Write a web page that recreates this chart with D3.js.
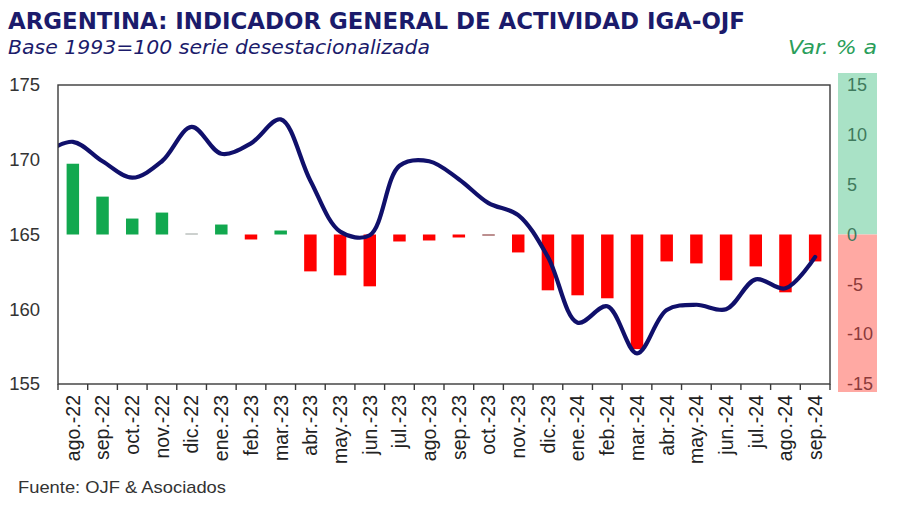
<!DOCTYPE html>
<html><head><meta charset="utf-8">
<script src="https://cdn.jsdelivr.net/npm/d3@7"></script>
<style>body{margin:0;background:#fff} svg{display:block}</style>
</head><body><svg id="c" width="900" height="505"></svg>
<script>
const categories = ["ago.-22","sep.-22","oct.-22","nov.-22","dic.-22","ene.-23","feb.-23","mar.-23","abr.-23","may.-23","jun.-23","jul.-23","ago.-23","sep.-23","oct.-23","nov.-23","dic.-23","ene.-24","feb.-24","mar.-24","abr.-24","may.-24","jun.-24","jul.-24","ago.-24","sep.-24"];
// IGA-OJF index (left axis), base 1993=100
const indexValues = [171.2,169.9,168.8,169.9,172.2,170.4,171.1,172.7,168.6,165.2,164.95,169.6,169.9,168.7,167.1,166.3,163.5,159.1,160.2,157.05,159.95,160.3,160.0,162.0,161.4,163.5];
// value of the month before the first category (jul.-22), line enters from the left edge
const indexPrevValue = 170.4;
// year-on-year % change (right axis)
const varValues = [7.1,3.8,1.6,2.2,0.1,1.0,-0.5,0.4,-3.7,-4.1,-5.2,-0.7,-0.6,-0.3,-0.1,-1.8,-5.6,-6.1,-6.4,-11.5,-2.7,-2.9,-4.6,-3.2,-5.8,-2.7];
const leftTicks = [155,160,165,170,175];
const rightTicks = [-15,-10,-5,0,5,10,15];

const svg = d3.select('#c');
const L = 58, R = 830, T = 85, B = 384;
const x = d3.scaleBand().domain(categories).range([L, R]).padding(0);
const bw = x.bandwidth();
const yL = d3.scaleLinear().domain([155, 175]).range([B, T]);
const yR = d3.scaleLinear().domain([-15, 15]).range([B, T]);

// Titles
svg.append('text').attr('x', 8).attr('y', 29)
  .attr('font-family', '"DejaVu Sans Condensed","DejaVu Sans",sans-serif')
  .attr('font-weight', 'bold').attr('font-size', 23.5).attr('fill', '#1b1b6b')
  .attr('textLength', 737).attr('lengthAdjust', 'spacingAndGlyphs')
  .text('ARGENTINA: INDICADOR GENERAL DE ACTIVIDAD IGA-OJF');
svg.append('text').attr('x', 8).attr('y', 54)
  .attr('font-family', '"DejaVu Sans Condensed","DejaVu Sans",sans-serif')
  .attr('font-style', 'italic').attr('font-size', 19.5).attr('fill', '#1b1b6b')
  .attr('textLength', 422).attr('lengthAdjust', 'spacingAndGlyphs')
  .text('Base 1993=100 serie desestacionalizada');
svg.append('text').attr('x', 788).attr('y', 54)
  .attr('font-family', '"DejaVu Sans Condensed","DejaVu Sans",sans-serif')
  .attr('font-style', 'italic').attr('font-size', 19.5).attr('fill', '#2a9e5a')
  .attr('textLength', 89).attr('lengthAdjust', 'spacingAndGlyphs')
  .text('Var. % a');

// Right colored band
const bandX = 838, bandW = 39;
svg.append('rect').attr('x', bandX).attr('y', yR(15) - 12).attr('width', bandW)
  .attr('height', yR(0) - yR(15) + 12).attr('fill', '#a9e2c6');
svg.append('rect').attr('x', bandX).attr('y', yR(0)).attr('width', bandW)
  .attr('height', yR(-15) - yR(0) + 8).attr('fill', '#ffa9a3');

// Right tick labels
svg.append('g').selectAll('text').data(rightTicks).join('text')
  .attr('x', 847).attr('y', d => yR(d)).attr('dy', '0.35em')
  .attr('font-family', '"Liberation Sans",Arial,sans-serif').attr('font-size', 18)
  .attr('fill', d => d >= 0 ? '#3f7a5d' : '#8c3a3a')
  .text(d => d);

// Left tick labels
svg.append('g').selectAll('text').data(leftTicks).join('text')
  .attr('x', 40).attr('y', d => yL(d)).attr('dy', '0.35em').attr('text-anchor', 'end')
  .attr('font-family', '"Liberation Sans",Arial,sans-serif').attr('font-size', 18.5)
  .attr('fill', '#333').text(d => d);

// Bars
const barW = bw * 0.42;
svg.append('g').selectAll('rect').data(varValues).join('rect')
  .attr('x', (d, i) => x(categories[i]) + (bw - barW) / 2)
  .attr('y', d => yR(Math.max(0, d)))
  .attr('width', barW)
  .attr('height', d => Math.max(1, Math.abs(yR(d) - yR(0))))
  .attr('fill', d => Math.abs(d) < 0.15 ? (d > 0 ? '#9aa39e' : '#7a2020') : (d >= 0 ? '#12a84f' : '#ff0000'));

// Line
svg.append('clipPath').attr('id', 'plotclip').append('rect')
  .attr('x', L).attr('y', T).attr('width', R - L).attr('height', B - T);
const pts = [[x(categories[0]) + bw / 2 - bw, yL(indexPrevValue)]]
  .concat(indexValues.map((v, i) => [x(categories[i]) + bw / 2, yL(v)]));
svg.append('path').attr('clip-path', 'url(#plotclip)')
  .attr('d', d3.line().curve(d3.curveCatmullRom.alpha(0.5))(pts))
  .attr('fill', 'none').attr('stroke', '#10106b').attr('stroke-width', 4.2)
  .attr('stroke-linecap', 'round').attr('stroke-linejoin', 'round');

// Frame
svg.append('rect').attr('x', L).attr('y', T).attr('width', R - L).attr('height', B - T)
  .attr('fill', 'none').attr('stroke', '#3a3a3a').attr('stroke-width', 1.4);

// X ticks at band boundaries
const bounds = categories.map(c => x(c)).concat([x.range()[1]]);
svg.append('g').selectAll('line').data(bounds).join('line')
  .attr('x1', d => d).attr('x2', d => d).attr('y1', B).attr('y2', B + 6)
  .attr('stroke', '#3a3a3a').attr('stroke-width', 1.4);

// X labels
svg.append('g').selectAll('text').data(categories).join('text')
  .attr('transform', c => `translate(${x(c) + bw / 2},395) rotate(-90)`)
  .attr('dy', '0.35em').attr('text-anchor', 'end')
  .attr('font-family', '"Liberation Sans",Arial,sans-serif').attr('font-size', 19.5)
  .attr('fill', '#222').text(c => c);

// Footer
svg.append('text').attr('x', 18).attr('y', 493)
  .attr('font-family', '"Liberation Sans",Arial,sans-serif').attr('font-size', 17)
  .attr('fill', '#333').attr('textLength', 208).attr('lengthAdjust', 'spacingAndGlyphs')
  .text('Fuente: OJF & Asociados');
</script></body></html>
